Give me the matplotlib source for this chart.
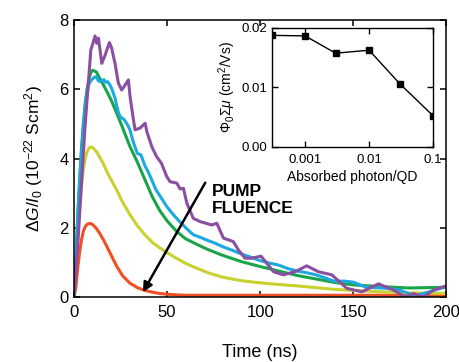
import numpy as np
import matplotlib
matplotlib.use("Agg")
import matplotlib.pyplot as plt

plt.rcParams['font.family'] = ['Liberation Sans', 'DejaVu Sans']
plt.rcParams['mathtext.fontset'] = 'custom'
plt.rcParams['mathtext.rm'] = 'Liberation Sans'
plt.rcParams['mathtext.it'] = 'Liberation Sans:italic'

# transient curves, time in ns, dG/I0 in 1e-22 Scm^2
t_smooth = [0, 1, 2, 3, 4, 5, 6, 7, 8, 9, 10, 12, 14, 16, 18, 20, 23, 26, 30, 34,
            38, 42, 46, 50, 55, 60, 66, 72, 80, 90, 100, 110, 120, 130, 140, 150,
            165, 180, 200]
red = [0, 0.3, 0.85, 1.3, 1.65, 1.9, 2.03, 2.1, 2.12, 2.12, 2.09, 1.98, 1.82, 1.63,
       1.42, 1.2, 0.88, 0.62, 0.40, 0.27, 0.19, 0.14, 0.10, 0.08, 0.06, 0.05, 0.05,
       0.05, 0.05, 0.05, 0.05, 0.05, 0.05, 0.05, 0.05, 0.05, 0.05, 0.04, 0.04]
yellow = [0, 0.9, 1.8, 2.6, 3.2, 3.7, 4.0, 4.2, 4.3, 4.33, 4.32, 4.2, 4.02, 3.82,
          3.58, 3.38, 3.08, 2.75, 2.38, 2.06, 1.8, 1.58, 1.42, 1.28, 1.12, 0.97,
          0.83, 0.70, 0.57, 0.47, 0.41, 0.36, 0.32, 0.27, 0.22, 0.19, 0.15, 0.12, 0.10]
green = [0, 1.2, 2.4, 3.4, 4.3, 5.0, 5.6, 6.0, 6.3, 6.48, 6.55, 6.5, 6.3, 6.1, 5.9,
         5.68, 5.3, 4.9, 4.35, 3.9, 3.4, 2.9, 2.5, 2.2, 1.9, 1.68, 1.52, 1.37, 1.2,
         1.02, 0.88, 0.75, 0.62, 0.52, 0.42, 0.35, 0.3, 0.26, 0.28]

t_blue = [0, 1, 2, 3, 4, 5, 6, 7, 8, 9, 10, 11, 12, 13, 14, 15, 16, 17, 18, 19, 20,
          22, 23, 24, 25, 27, 29, 30, 32, 34, 36, 38, 40, 42, 44, 47, 50, 53, 56,
          60, 64, 68, 72, 76, 80, 85, 90, 95, 100, 105, 110, 115, 120, 125, 130,
          135, 140, 145, 150, 157, 168, 175, 183, 191, 200]
blue = [0, 1.1, 2.3, 3.3, 4.2, 4.9, 5.5, 5.9, 6.15, 6.25, 6.3, 6.35, 6.37, 6.25,
        6.22, 6.25, 6.28, 6.2, 6.22, 6.15, 6.05, 5.75, 5.5, 5.3, 5.2, 5.12, 4.95,
        4.83, 4.45, 4.15, 4.1, 3.8, 3.6, 3.35, 3.1, 2.85, 2.6, 2.4, 2.22, 2.0, 1.8,
        1.72, 1.63, 1.55, 1.45, 1.35, 1.24, 1.15, 1.05, 0.98, 0.92, 0.82, 0.75,
        0.7, 0.64, 0.55, 0.45, 0.46, 0.43, 0.28, 0.25, 0.2, 0.03, 0.15, 0.3]

t_purple = [0, 2, 4, 6, 8, 9, 10, 11.3, 12.2, 13.1, 14.9, 16.7, 19, 20.2, 22, 23.8,
            25.6, 26.9, 29.2, 30.1, 31.9, 32.8, 35.5, 38.2, 39.1, 41.8, 44.4, 47,
            49.8, 51.6, 55.2, 57, 58.8, 60.6, 64.1, 67.7, 74, 76.7, 80.3, 85.6, 88.3,
            91.9, 95.5, 100.5, 107.2, 112.5, 118.8, 125, 131.3, 138.5, 146.6, 154.7,
            163.6, 171.7, 178, 182.4, 187.8, 193.2, 200]
purple = [0, 1.5, 3.3, 5.0, 6.4, 7.14, 7.3, 7.54, 7.33, 7.48, 6.75, 6.99, 7.35, 7.19,
          6.75, 6.18, 5.98, 6.08, 6.27, 5.79, 5.12, 4.83, 4.88, 5.02, 4.78, 4.34,
          4.05, 3.86, 3.48, 3.33, 3.29, 3.12, 3.14, 2.71, 2.27, 2.18, 2.08, 2.13,
          1.70, 1.60, 1.36, 1.12, 1.12, 1.18, 0.73, 0.64, 0.73, 0.9, 0.73, 0.64,
          0.25, 0.15, 0.38, 0.2, 0.0, 0.1, 0.0, 0.2, 0.32]

# inset: mobility vs absorbed photons per QD
photons = [0.0003, 0.001, 0.003, 0.01, 0.03, 0.1]
mobility = [0.0187, 0.0186, 0.0157, 0.0162, 0.0106, 0.0052]

fig = plt.figure(figsize=(4.6, 3.62), dpi=100)
ax = fig.add_axes([0.161, 0.1796, 0.809, 0.765])

lw = 2.2
ax.plot(t_smooth, red, color='#f04e23', lw=lw)
ax.plot(t_smooth, yellow, color='#c9d12e', lw=lw)
ax.plot(t_smooth, green, color='#1aa44a', lw=lw)
ax.plot(t_blue, blue, color='#1ba9e1', lw=lw)
ax.plot(t_purple, purple, color='#8b4fa2', lw=lw)

ax.set_xlim(0, 200)
ax.set_ylim(0, 8)
ax.set_xticks([0, 50, 100, 150, 200])
ax.set_yticks([0, 2, 4, 6, 8])
ax.tick_params(direction='in', top=True, right=True, length=4, width=1.1,
               labelsize=12, color='black')
ax.tick_params(axis='x', pad=6)
ax.tick_params(axis='y', pad=4)
for s in ax.spines.values():
    s.set_linewidth(1.1)
ax.set_xlabel('Time (ns)', fontsize=13, labelpad=17)
ax.set_ylabel(r'$\Delta G/I_0$ (10$^{-22}$ Scm$^2$)', fontsize=12.5, labelpad=10)

ax.annotate('', xy=(37, 0.14), xytext=(70.5, 3.3),
            arrowprops=dict(arrowstyle='-|>', color='black', lw=1.8,
                            mutation_scale=14, shrinkA=0, shrinkB=0))
ax.text(74, 3.25, 'PUMP\nFLUENCE', fontsize=12.5, fontweight='bold',
        va='top', ha='left', linespacing=1.1)

ins = fig.add_axes([0.5907, 0.5948, 0.3507, 0.329])
ins.plot(photons, mobility, color='black', lw=1, marker='s', markersize=4)
ins.set_xscale('log')
ins.set_xlim(0.0003, 0.1)
ins.set_ylim(0, 0.02)
ins.set_xticks([0.001, 0.01, 0.1])
ins.set_xticklabels(['0.001', '0.01', '0.1'])
ins.minorticks_off()
ins.set_yticks([0, 0.01, 0.02])
ins.set_yticklabels(['0.00', '0.01', '0.02'])
ins.tick_params(direction='in', top=True, right=True, length=4, width=1,
                labelsize=9.5)
ins.tick_params(axis='x', pad=5)
ins.tick_params(axis='y', pad=3)
for s in ins.spines.values():
    s.set_linewidth(1)
ins.set_xlabel('Absorbed photon/QD', fontsize=10, labelpad=3)
ins.set_ylabel(r'$\Phi_0\Sigma\mu$ (cm$^2$/Vs)', fontsize=10, labelpad=3)

fig.savefig('out.png', dpi=100)
